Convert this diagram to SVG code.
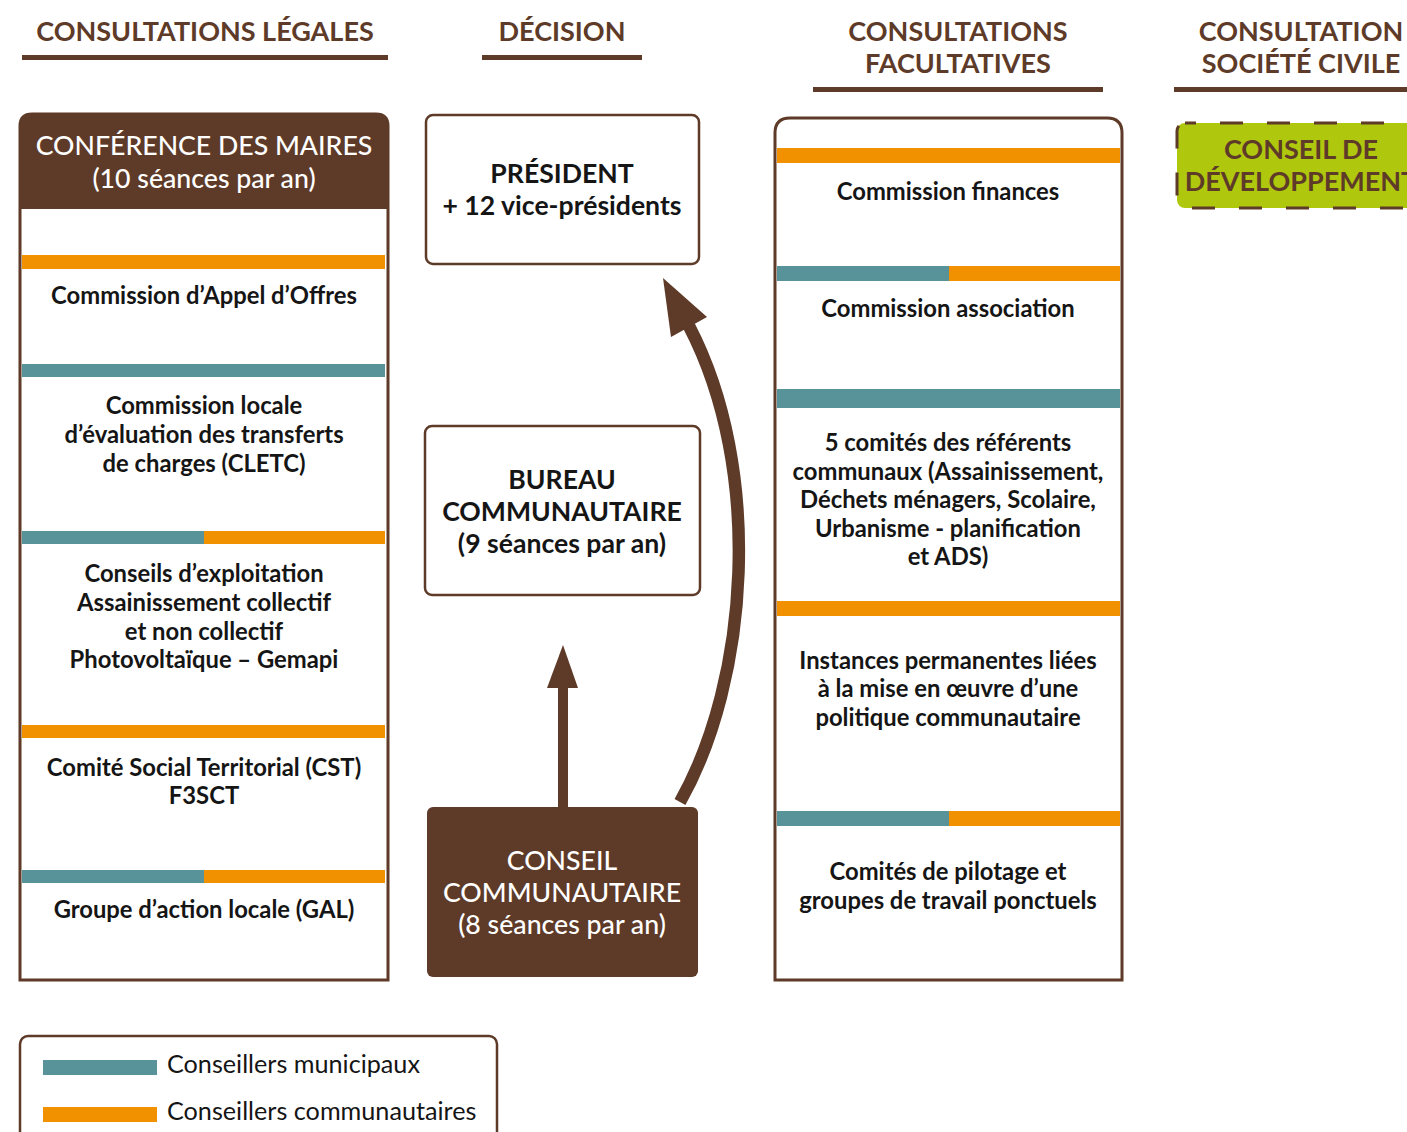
<svg xmlns="http://www.w3.org/2000/svg" width="1407" height="1132" viewBox="0 0 1407 1132">
<defs>
<style>
.hd{font-family:Lato,"Open Sans","Liberation Sans",sans-serif;font-weight:700;font-size:27px;fill:#5e3a28;text-anchor:middle}
.ul{fill:#5e3a28}
.t{font-family:Lato,"Open Sans","Liberation Sans",sans-serif;font-weight:700;font-size:23.8px;fill:#151515;text-anchor:middle}
.big{font-family:Lato,"Open Sans","Liberation Sans",sans-serif;font-weight:700;font-size:26.6px;fill:#151515;text-anchor:middle}
.wt{font-family:Lato,"Open Sans","Liberation Sans",sans-serif;font-weight:500;font-size:26.7px;fill:#ffffff;text-anchor:middle}
.lg{font-family:Lato,"Open Sans","Liberation Sans",sans-serif;font-weight:400;font-size:25.2px;fill:#151515}
.o{fill:#f29100}
.b{fill:#58939a}
.frame{fill:#ffffff;stroke:#5e3a28;stroke-width:3}
.brown{fill:#5e3a28}
</style>
</defs>
<rect width="1407" height="1132" fill="#ffffff"/>

<g id="headers">
<text class="hd" x="205" y="41">CONSULTATIONS LÉGALES</text>
<rect class="ul" x="22" y="55" width="366" height="5"/>
<text class="hd" x="562" y="41">DÉCISION</text>
<rect class="ul" x="482" y="55" width="160" height="5"/>
<text class="hd" x="958" y="41">CONSULTATIONS</text>
<text class="hd" x="958" y="73">FACULTATIVES</text>
<rect class="ul" x="813" y="87" width="290" height="5"/>
<text class="hd" x="1301" y="41">CONSULTATION</text>
<text class="hd" x="1301" y="73">SOCIÉTÉ CIVILE</text>
<rect class="ul" x="1174" y="87" width="240" height="5"/>
</g>

<g id="legal">
<path class="frame" d="M20,980 V126 Q20,114 32,114 H376 Q388,114 388,126 V980 Z"/>
<path class="brown" d="M20,209 V126 Q20,114 32,114 H376 Q388,114 388,126 V209 Z"/>
<text class="wt" x="204" y="155">CONFÉRENCE DES MAIRES</text>
<text class="wt" x="204" y="188">(10 séances par an)</text>
<rect class="o" x="22" y="255" width="363" height="14"/>
<text class="t" x="204" y="304">Commission d’Appel d’Offres</text>
<rect class="b" x="22" y="364" width="363" height="13"/>
<text class="t" x="204" y="414">Commission locale</text>
<text class="t" x="204" y="443">d’évaluation des transferts</text>
<text class="t" x="204" y="472">de charges (CLETC)</text>
<rect class="b" x="22" y="531" width="182" height="13"/>
<rect class="o" x="204" y="531" width="181" height="13"/>
<text class="t" x="204" y="582">Conseils d’exploitation</text>
<text class="t" x="204" y="611">Assainissement collectif</text>
<text class="t" x="204" y="640">et non collectif</text>
<text class="t" x="204" y="668">Photovoltaïque – Gemapi</text>
<rect class="o" x="22" y="725" width="363" height="13"/>
<text class="t" x="204" y="776">Comité Social Territorial (CST)</text>
<text class="t" x="204" y="804">F3SCT</text>
<rect class="b" x="22" y="870" width="182" height="13"/>
<rect class="o" x="204" y="870" width="181" height="13"/>
<text class="t" x="204" y="918">Groupe d’action locale (GAL)</text>
</g>

<g id="president">
<rect x="426" y="115" width="273" height="149" rx="7" fill="#ffffff" stroke="#5e3a28" stroke-width="2.5"/>
<text class="big" x="562" y="183">PRÉSIDENT</text>
<text class="big" x="562" y="215">+ 12 vice-présidents</text>
</g>

<g id="bureau">
<rect x="425" y="426" width="275" height="169" rx="7" fill="#ffffff" stroke="#5e3a28" stroke-width="2.5"/>
<text class="big" x="562" y="489">BUREAU</text>
<text class="big" x="562" y="521">COMMUNAUTAIRE</text>
<text class="big" x="562" y="553">(9 séances par an)</text>
</g>

<g id="conseil">
<rect x="427" y="807" width="271" height="170" rx="6" fill="#5e3a28"/>
<text class="wt" x="562" y="870">CONSEIL</text>
<text class="wt" x="562" y="902">COMMUNAUTAIRE</text>
<text class="wt" x="562" y="934">(8 séances par an)</text>
</g>

<g id="connectors">
<rect class="brown" x="558" y="685" width="10" height="123"/>
<polygon class="brown" points="563,645 578,688 547,688"/>
<path d="M680,802 C749,680 764,470 689,326" fill="none" stroke="#5e3a28" stroke-width="12.5"/>
<polygon class="brown" points="663,278 671,337 707,317"/>
</g>

<g id="facultatives">
<path class="frame" d="M775,980 V133 Q775,118 790,118 H1107 Q1122,118 1122,133 V980 Z"/>
<rect class="o" x="777" y="148" width="343" height="15"/>
<text class="t" x="948" y="200">Commission finances</text>
<rect class="b" x="777" y="266" width="172" height="15"/>
<rect class="o" x="949" y="266" width="171" height="15"/>
<text class="t" x="948" y="317">Commission association</text>
<rect class="b" x="777" y="389" width="343" height="19"/>
<text class="t" x="948" y="451">5 comités des référents</text>
<text class="t" x="948" y="480">communaux (Assainissement,</text>
<text class="t" x="948" y="508">Déchets ménagers, Scolaire,</text>
<text class="t" x="948" y="537">Urbanisme - planification</text>
<text class="t" x="948" y="565">et ADS)</text>
<rect class="o" x="777" y="601" width="343" height="15"/>
<text class="t" x="948" y="669">Instances permanentes liées</text>
<text class="t" x="948" y="697">à la mise en œuvre d’une</text>
<text class="t" x="948" y="726">politique communautaire</text>
<rect class="b" x="777" y="811" width="172" height="15"/>
<rect class="o" x="949" y="811" width="171" height="15"/>
<text class="t" x="948" y="880">Comités de pilotage et</text>
<text class="t" x="948" y="909">groupes de travail ponctuels</text>
</g>

<g id="developpement">
<rect x="1177" y="123" width="260" height="85" rx="8" fill="#afc80d" stroke="#5e3a28" stroke-width="3" stroke-dasharray="23,24" stroke-dashoffset="12"/>
<text class="hd" x="1301" y="159">CONSEIL DE</text>
<text class="hd" x="1301" y="191">DÉVELOPPEMENT</text>
</g>

<g id="legend">
<rect x="20" y="1036" width="477" height="120" rx="8" fill="#ffffff" stroke="#5e3a28" stroke-width="2.5"/>
<rect class="b" x="43" y="1060" width="114" height="15"/>
<text class="lg" x="167" y="1073">Conseillers municipaux</text>
<rect class="o" x="43" y="1107" width="114" height="15"/>
<text class="lg" x="167" y="1120">Conseillers communautaires</text>
</g>
</svg>
